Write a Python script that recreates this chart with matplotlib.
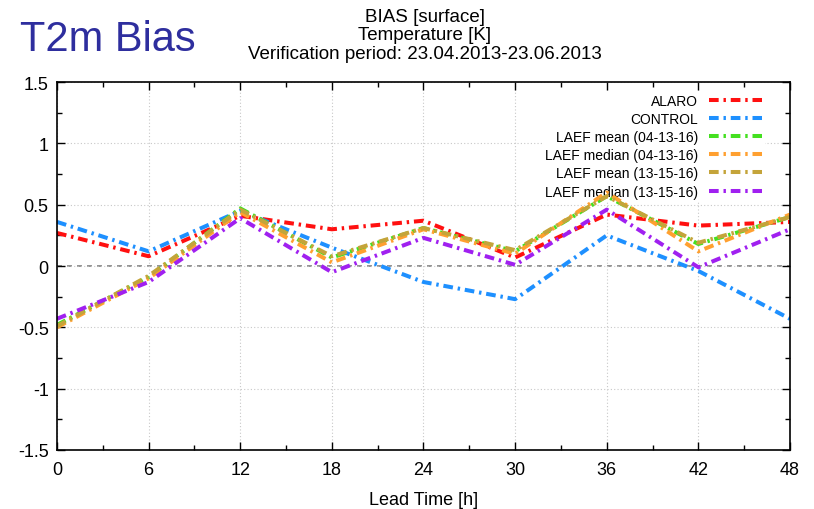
import matplotlib
matplotlib.use("Agg")
from matplotlib import pyplot as plt
from matplotlib.ticker import MultipleLocator
import numpy as np

plt.rcParams['font.family'] = ['Liberation Sans', 'DejaVu Sans']

# data
lead_time = [0, 6, 12, 18, 24, 30, 36, 42, 48]

alaro = [0.27, 0.08, 0.41, 0.30, 0.37, 0.07, 0.42, 0.33, 0.36]
control = [0.36, 0.12, 0.45, 0.15, -0.13, -0.27, 0.25, -0.04, -0.43]
mean_041316 = [-0.48, -0.09, 0.47, 0.07, 0.31, 0.12, 0.57, 0.18, 0.40]
median_041316 = [-0.50, -0.10, 0.44, 0.03, 0.30, 0.10, 0.60, 0.12, 0.42]
mean_131516 = [-0.49, -0.08, 0.46, 0.08, 0.31, 0.13, 0.57, 0.19, 0.40]
median_131516 = [-0.43, -0.13, 0.39, -0.05, 0.23, 0.01, 0.46, -0.01, 0.30]

labels = ["ALARO", "CONTROL", "LAEF mean (04-13-16)", "LAEF median (04-13-16)",
          "LAEF mean (13-15-16)", "LAEF median (13-15-16)"]
series = [alaro, control, mean_041316, median_041316, mean_131516, median_131516]
colors = ['#ff1010', '#1e90ff', '#44e020', '#ffa030', '#c4a43a', '#a020f0']

fig = plt.figure(figsize=(8.14, 5.10), dpi=100)
ax = fig.add_axes([0.070, 0.1157, 0.9005, 0.7213])

ls = (0, (2.4, 1.2, 0.6, 1.2))
for y, lab, c in zip(series, labels, colors):
	ax.plot(lead_time, y, color=c, lw=2.9, ls=ls, label=lab)

ax.axhline(0, color='#808080', lw=1.2, ls=(0, (3, 3)), zorder=1)

ax.set_xlim(0, 48)
ax.set_ylim(-1.5, 1.5)
ax.xaxis.set_major_locator(MultipleLocator(6))
ax.xaxis.set_minor_locator(MultipleLocator(3))
ax.yaxis.set_major_locator(MultipleLocator(0.5))
ax.yaxis.set_minor_locator(MultipleLocator(0.25))
ax.set_yticklabels([f"{v:g}" for v in ax.get_yticks()])
ax.tick_params(which='both', direction='in', top=True, right=True, labelsize=13)
ax.tick_params(which='major', length=6, width=1)
ax.tick_params(which='minor', length=3.5, width=1)
ax.tick_params(axis='x', pad=8)
ax.tick_params(axis='y', pad=6)
ax.grid(True, which='major', color='#c8c8c8', ls=(0, (1, 2)), lw=0.8)
for s in ax.spines.values():
	s.set_linewidth(1.2)

ax.set_xlabel('Lead Time [h]', fontsize=13, labelpad=9)

leg = ax.legend(loc='upper right', bbox_to_anchor=(0.975, 0.995), markerfirst=False,
                frameon=True, fontsize=10, handlelength=3.8, labelspacing=0.3,
                borderpad=0.2, handletextpad=0.8)
leg.get_frame().set_edgecolor('none')
leg.get_frame().set_facecolor('white')
leg.get_frame().set_alpha(1)
leg.set_zorder(1.6)
for t in leg.get_texts():
	t.set_ha('right')

fig.text(0.024, 0.922, 'T2m Bias', fontsize=30, color='#2e2e9e', ha='left', va='center')
fig.text(0.522, 0.966, 'BIAS [surface]', fontsize=13.5, ha='center', va='center')
fig.text(0.522, 0.930, 'Temperature [K]', fontsize=13.5, ha='center', va='center')
fig.text(0.522, 0.893, 'Verification period: 23.04.2013-23.06.2013', fontsize=13.5, ha='center', va='center')

fig.savefig('out.png', dpi=100)
